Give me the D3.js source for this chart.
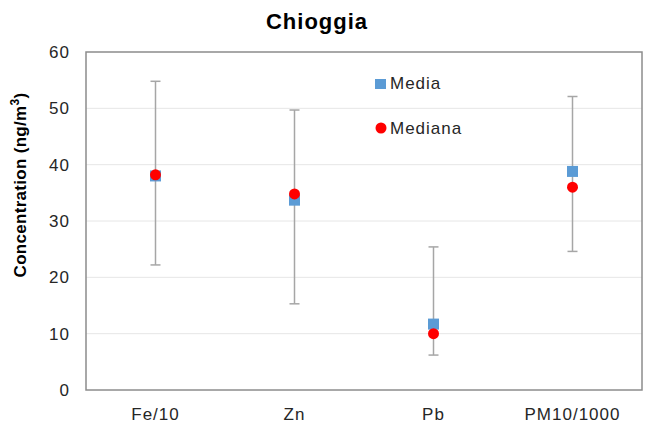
<!DOCTYPE html>
<html>
<head>
<meta charset="utf-8">
<script src="https://cdn.jsdelivr.net/npm/d3@7"></script>
<style>
  body { margin: 0; background: #fff; }
  text { font-family: "Liberation Sans", Arial, sans-serif; }
</style>
</head>
<body>
<svg width="645" height="425"></svg>
<script>
"use strict";

var categories = ["Fe/10", "Zn", "Pb", "PM10/1000"];
var media = [38.0, 33.7, 11.7, 38.8];
var mediana = [38.2, 34.8, 10.0, 36.0];
var errLow = [22.2, 15.3, 6.2, 24.6];
var errHigh = [54.8, 49.7, 25.4, 52.1];
var yTicks = [0, 10, 20, 30, 40, 50, 60];

var margin = { top: 52, right: 3, bottom: 35, left: 86 };
var width = 645 - margin.left - margin.right;
var height = 425 - margin.top - margin.bottom;

var svg = d3.select("svg");
var g = svg.append("g")
    .attr("transform", "translate(" + margin.left + "," + margin.top + ")");

var x = d3.scaleBand()
    .domain(categories)
    .range([0, width]);

var y = d3.scaleLinear()
    .domain([0, 60])
    .range([height, 0]);

// Gridlines
g.append("g")
    .selectAll("line")
    .data(yTicks.slice(1, -1))
    .enter()
    .append("line")
    .attr("x1", 0)
    .attr("x2", width)
    .attr("y1", function (d) { return y(d); })
    .attr("y2", function (d) { return y(d); })
    .attr("stroke", "#e6e6e6")
    .attr("stroke-width", 1);

// Plot frame
g.append("rect")
    .attr("x", 0)
    .attr("y", 0)
    .attr("width", width)
    .attr("height", height)
    .attr("fill", "none")
    .attr("stroke", "#8c8c8c")
    .attr("stroke-width", 1.5);

// Y axis
var yAxis = g.append("g")
    .call(d3.axisLeft(y).tickValues(yTicks).tickSize(0).tickPadding(16));
yAxis.select(".domain").remove();
yAxis.selectAll("text")
    .attr("font-size", 17)
    .attr("letter-spacing", 1)
    .attr("fill", "#262626")
    .style("font-family", "'Liberation Sans', Arial, sans-serif");

// X axis
var xAxis = g.append("g")
    .attr("transform", "translate(0," + height + ")")
    .call(d3.axisBottom(x).tickSize(0).tickPadding(18));
xAxis.select(".domain").remove();
xAxis.selectAll("text")
    .attr("font-size", 17)
    .attr("letter-spacing", 1)
    .attr("fill", "#262626")
    .style("font-family", "'Liberation Sans', Arial, sans-serif");

var cx = function (i) { return x(categories[i]) + x.bandwidth() / 2; };

// Error bars
var err = g.append("g").attr("stroke", "#a6a6a6").attr("stroke-width", 1.5);
categories.forEach(function (c, i) {
    err.append("line")
        .attr("x1", cx(i)).attr("x2", cx(i))
        .attr("y1", y(errLow[i])).attr("y2", y(errHigh[i]));
    [errLow[i], errHigh[i]].forEach(function (v) {
        err.append("line")
            .attr("x1", cx(i) - 5).attr("x2", cx(i) + 5)
            .attr("y1", y(v)).attr("y2", y(v));
    });
});

// Media (squares)
g.append("g")
    .selectAll("rect")
    .data(media)
    .enter()
    .append("rect")
    .attr("x", function (d, i) { return cx(i) - 5.5; })
    .attr("y", function (d) { return y(d) - 5.5; })
    .attr("width", 11)
    .attr("height", 11)
    .attr("fill", "#5b9bd5");

// Mediana (circles)
g.append("g")
    .selectAll("circle")
    .data(mediana)
    .enter()
    .append("circle")
    .attr("cx", function (d, i) { return cx(i); })
    .attr("cy", function (d) { return y(d); })
    .attr("r", 5.5)
    .attr("fill", "#ff0000");

// Legend
var legend = svg.append("g");
legend.append("rect")
    .attr("x", 375).attr("y", 79).attr("width", 11).attr("height", 10)
    .attr("fill", "#5b9bd5");
legend.append("text")
    .attr("x", 390).attr("y", 89)
    .attr("font-size", 17).attr("letter-spacing", 1).attr("fill", "#262626")
    .text("Media");
legend.append("circle")
    .attr("cx", 381).attr("cy", 128).attr("r", 5.5)
    .attr("fill", "#ff0000");
legend.append("text")
    .attr("x", 390).attr("y", 134)
    .attr("font-size", 17).attr("letter-spacing", 1).attr("fill", "#262626")
    .text("Mediana");

// Title
svg.append("text")
    .attr("x", 317)
    .attr("y", 29)
    .attr("text-anchor", "middle")
    .attr("font-size", 22)
    .attr("font-weight", "bold")
    .attr("letter-spacing", 1)
    .attr("fill", "#000")
    .text("Chioggia");

// Y label
var yl = svg.append("text")
    .attr("transform", "translate(26,185) rotate(-90)")
    .attr("text-anchor", "middle")
    .attr("font-size", 17)
    .attr("font-weight", "bold")
    .attr("letter-spacing", 0.3)
    .attr("fill", "#000");
yl.append("tspan").text("Concentration  (ng/m");
yl.append("tspan").attr("dy", -7).attr("font-size", 12).text("3");
yl.append("tspan").attr("dy", 7).text(")");
</script>
</body>
</html>
